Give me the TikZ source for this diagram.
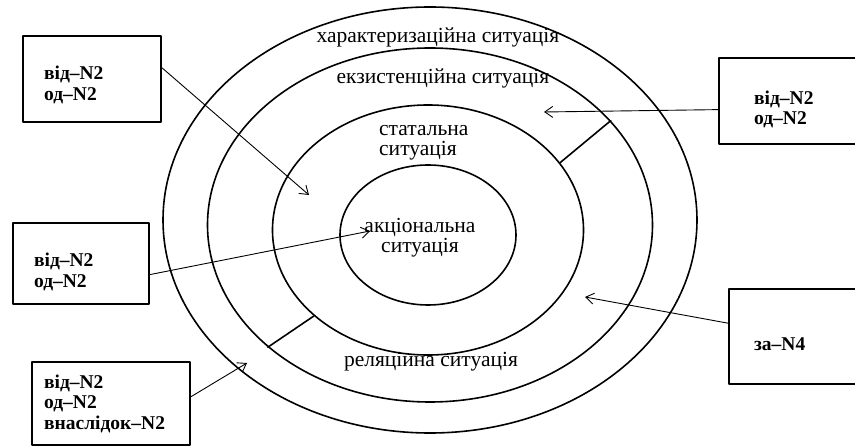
\documentclass[tikz,border=0pt]{standalone}
\usepackage{fontspec}
\setmainfont{Liberation Serif}
\usetikzlibrary{shapes.geometric,arrows.meta}
\begin{document}
\begin{tikzpicture}[x=1pt, y=-1pt, line join=round, line cap=round,
		ring/.style={draw, ellipse, line width=1.6pt, inner sep=0pt},
		box/.style={draw, line width=2.2pt, anchor=north west, align=left, inner ysep=0pt,
			font=\fontsize{19.5}{20.5}\selectfont\bfseries},
		lbl/.style={font=\fontsize{21.5}{20}\selectfont, inner sep=0pt},
		arr/.style={line width=0.9pt, -{Straight Barb[length=8pt,width=11pt]}}]
	\useasboundingbox (0,0) rectangle (855,446);
	% situations
	\foreach \n/\cx/\cy/\w/\h in {char/430/220/534/426, exist/430/225/445/354, stat/428/230/311/250, akc/428/235/176/140}
		\node[ring, minimum width=\w pt, minimum height=\h pt] (\n) at (\cx,\cy) {};
	\node[lbl] (lchar) at (438,37) {характеризаційна ситуація};
	\node[lbl] (lexist) at (443,78) {екзистенційна ситуація};
	\node[lbl, anchor=west, align=left] (lstat) at (379,143) {статальна\\ситуація};
	\node[lbl, align=center] (lakc) at (420,238) {акціональна\\ситуація};
	\node[lbl] (lrel) at (431,362) {реляціина ситуація};
	\draw[line width=1.6pt] (stat.27)--(exist.30);
	\draw[line width=1.6pt] (stat.217)--(exist.217);
	% prepositions
	\node[box, minimum height=86pt, inner xsep=21pt, text width=96pt] (b1) at (22,35) {\rule{0pt}{25pt}від–N2\\од–N2};
	\node[box, minimum height=81pt, inner xsep=21pt, text width=94pt] (b2) at (12,222) {\rule{0pt}{30pt}від–N2\\од–N2};
	\node[box, minimum height=83pt, inner xsep=12pt, text width=134pt] (b3) at (31,361) {від–N2\\од–N2\\внаслідок–N2};
	\node[box, minimum height=86pt, inner xsep=35pt, text width=90pt] (b4) at (718,57) {\rule{0pt}{30pt}від–N2\\од–N2};
	\node[box, minimum height=95pt, inner xsep=25pt, text width=100pt] (b5) at (728,288) {\rule{0pt}{27pt}за–N4};
	\coordinate (t1) at (309,195);
	\coordinate (t2) at (370,231);
	\coordinate (t3) at (247,363);
	\coordinate (t4) at (544,112);
	\coordinate (t5) at (585,297);
	\draw[arr] (b1.9)--(t1);
	\draw[arr] (b2.-9)--(t2);
	\draw[arr] (b3.5)--(t3);
	\draw[arr] (b4.186)--(t4);
	\draw[arr] (b5.170)--(t5);
\end{tikzpicture}
\end{document}
